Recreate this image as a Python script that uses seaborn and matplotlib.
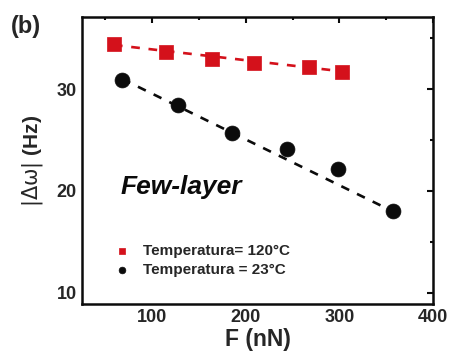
import matplotlib
matplotlib.use("Agg")
import matplotlib.pyplot as plt
import seaborn as sns
from matplotlib.ticker import MultipleLocator

# Measured frequency shift vs applied force
force_hot = [59, 115, 164, 209, 268, 303]
dw_hot = [34.4, 33.7, 33.0, 32.6, 32.2, 31.7]
force_room = [68, 128, 185, 244, 298, 357]
dw_room = [30.9, 28.5, 25.7, 24.1, 22.2, 18.0]

# Linear trend guides (end points of each dashed line)
fit_force_hot = [59, 313]
fit_dw_hot = [34.35, 31.65]
fit_force_room = [68, 357]
fit_dw_room = [31.0, 18.0]

label_hot = "Temperatura= 120°C"
label_room = "Temperatura = 23°C"
x_ticks = [100, 200, 300, 400]
y_ticks = [10, 20, 30]

RED = "#d4111b"
BLACK = "#0b0b0b"

sns.set_style("white")
plt.rcParams["font.family"] = ["Liberation Sans", "DejaVu Sans"]
plt.rcParams["font.weight"] = "bold"
plt.rcParams["mathtext.fontset"] = "custom"
plt.rcParams["mathtext.rm"] = "DejaVu Sans:weight=normal"
plt.rcParams["mathtext.it"] = "DejaVu Sans:weight=normal"
plt.rcParams["mathtext.default"] = "rm"

fig = plt.figure(figsize=(4.51, 3.58), dpi=100)
ax = fig.add_axes([0.182, 0.151, 0.778, 0.8015])

dash = (0, (3.3, 3.3))
sns.lineplot(x=fit_force_hot, y=fit_dw_hot, ax=ax, color=RED, lw=1.9,
             linestyle=dash, legend=False)
sns.lineplot(x=fit_force_room, y=fit_dw_room, ax=ax, color=BLACK, lw=1.9,
             linestyle=dash, legend=False)
sns.scatterplot(x=force_hot, y=dw_hot, ax=ax, color=RED, marker="s", s=95,
                edgecolor=RED, linewidth=0.5, label=label_hot, zorder=3)
sns.scatterplot(x=force_room, y=dw_room, ax=ax, color=BLACK, marker="o", s=115,
                edgecolor=BLACK, linewidth=0.5, label=label_room, zorder=3)

ax.set_xlim(25, 400)
ax.set_ylim(8.9, 37.1)
ax.set_xticks(x_ticks)
ax.set_yticks(y_ticks)
ax.xaxis.set_minor_locator(MultipleLocator(50))
ax.yaxis.set_minor_locator(MultipleLocator(5))
ax.tick_params(which="both", direction="in", top=True, right=True,
               width=1.5, color=BLACK)
ax.tick_params(which="major", length=4, labelsize=13, pad=4)
ax.tick_params(which="minor", length=2.5)
for lab in ax.get_xticklabels() + ax.get_yticklabels():
    lab.set_fontweight("bold")
for sp in ax.spines.values():
    sp.set_linewidth(1.8)
    sp.set_color(BLACK)

ax.set_xlabel("F (nN)", fontsize=16.5, fontweight="bold", labelpad=1)
ax.set_ylabel(r"$|\Delta\omega|$ (Hz)", fontsize=15, fontweight="bold", labelpad=8)

ax.text(66, 20.4, "Few-layer", fontsize=19, fontweight="bold", style="italic",
        color=BLACK, va="center", ha="left")
fig.text(0.058, 0.925, "(b)", fontsize=17, fontweight="bold", ha="center", va="center")

leg = ax.legend(loc="upper left", bbox_to_anchor=(0.07, 0.21), frameon=False,
                fontsize=11, markerscale=0.45, handletextpad=0.4,
                labelspacing=0.35, borderpad=0, borderaxespad=0)
for t in leg.get_texts():
    t.set_fontweight("bold")

fig.savefig("out.png", dpi=100)
